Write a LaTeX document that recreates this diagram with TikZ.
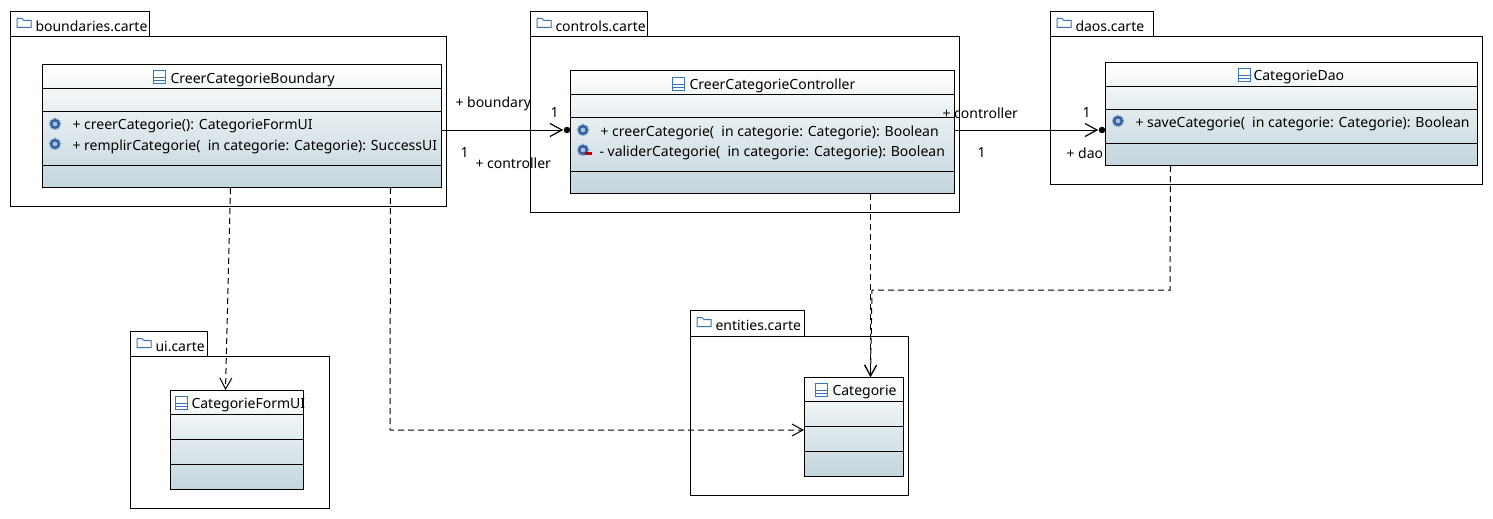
\documentclass[tikz,border=0pt]{standalone}
\usepackage{fontspec}
\setmainfont{Noto Sans}
\usetikzlibrary{arrows.meta}
\definecolor{iconblue}{HTML}{3C75B5}
\definecolor{gearblue}{HTML}{2F5F9F}
\definecolor{classbottom}{HTML}{C3D5DC}
\begin{document}
\begin{tikzpicture}[
    x=1pt,y=-1pt,line width=1pt,
    font=\fontsize{14pt}{16pt}\selectfont,
    pkgbox/.style={draw,fill=white,anchor=north west,inner sep=0pt},
    classbox/.style={draw,anchor=north west,inner sep=0pt,top color=white,bottom color=classbottom},
    txt/.style={inner sep=0pt,anchor=west,yshift=-1.5pt},
    dot/.style={circle,fill,inner sep=0pt,minimum size=6.5pt},
    dep/.style={dash pattern=on 6pt off 4pt,-{Straight Barb[length=11pt,width=12pt,line width=1pt]}},
    assoc/.style={-{Straight Barb[length=12pt,width=13pt,line width=1.2pt]}},
    folder/.pic={\draw[iconblue,line width=1pt,fill=white] (-7,4.5) -- (-7,-4.5) -- (-2,-4.5) -- (0,-2.5) -- (7,-2.5) -- (7,4.5) -- cycle;},
    classicon/.pic={\draw[iconblue,line width=1pt,fill=white] (-6,-6.5) rectangle (6,6.5);
        \draw[iconblue,line width=1pt] (-6,0.5) -- (6,0.5) (-6,3.5) -- (6,3.5);},
    gear/.pic={\fill[gearblue] (0,0) circle (5.2pt);
        \draw[gearblue!70,line width=1.4pt,dash pattern=on 1.3pt off 1.3pt] (0,0) circle (5.6pt);
        \fill[white!60!gearblue] (0,0) circle (2.4pt);}
]
\useasboundingbox (0,0) rectangle (1493,519);

% packages
\node[pkgbox,minimum width=139pt,minimum height=25pt] (boundariesTab) at (10,11) {};
\node[pkgbox,minimum width=436pt,minimum height=170pt] (boundariesPkg) at (10,36) {};
\node[pkgbox,minimum width=117pt,minimum height=25pt] (controlsTab) at (530,11) {};
\node[pkgbox,minimum width=429pt,minimum height=176pt] (controlsPkg) at (530,36) {};
\node[pkgbox,minimum width=103pt,minimum height=25pt] (daosTab) at (1050,11) {};
\node[pkgbox,minimum width=432pt,minimum height=148pt] (daosPkg) at (1050,36) {};
\node[pkgbox,minimum width=77pt,minimum height=25pt] (uiTab) at (130,331) {};
\node[pkgbox,minimum width=199pt,minimum height=152pt] (uiPkg) at (130,356) {};
\node[pkgbox,minimum width=114pt,minimum height=26pt] (entitiesTab) at (690,310) {};
\node[pkgbox,minimum width=218pt,minimum height=159pt] (entitiesPkg) at (690,336) {};

\node[txt] (boundariesName) at (35,24.5) {boundaries.carte};
\node[txt] (controlsName) at (555,24.5) {controls.carte};
\node[txt] (daosName) at (1075,24.5) {daos.carte};
\node[txt] (uiName) at (155,344.5) {ui.carte};
\node[txt] (entitiesName) at (715,323.5) {entities.carte};
\foreach \x/\y in {24/23,544/23,1064/23,144/343,704/322}
    \pic at (\x,\y) {folder};

% classes
\node[classbox,minimum width=399pt,minimum height=123pt] (boundaryClass) at (42,64) {};
\node[classbox,minimum width=384pt,minimum height=123pt] (controllerClass) at (570,70) {};
\node[classbox,minimum width=372pt,minimum height=103pt] (daoClass) at (1105,62) {};
\node[classbox,minimum width=133pt,minimum height=99pt] (formClass) at (170,390) {};
\node[classbox,minimum width=99pt,minimum height=99pt] (categorieClass) at (804,377) {};

\foreach \y in {88,111,165} \draw (42,\y) -- (441,\y);
\foreach \y in {94,117,171} \draw (570,\y) -- (954,\y);
\foreach \y in {86,109,143} \draw (1105,\y) -- (1477,\y);
\foreach \y in {414,439,464} \draw (170,\y) -- (303,\y);
\foreach \y in {401,426,451} \draw (804,\y) -- (903,\y);

\node[txt] (boundaryName) at (170,78) {CreerCategorieBoundary};
\node[txt] (controllerName) at (689,84) {CreerCategorieController};
\node[txt] (daoName) at (1253,76) {CategorieDao};
\node[txt] (formName) at (191,404) {CategorieFormUI};
\node[txt] (categorieName) at (832,391) {Categorie};
\foreach \x/\y in {159/77,678/84,1244/75,181/403,821/390}
    \pic at (\x,\y) {classicon};

\node[txt] (creerForm) at (72,124.5) {+ creerCategorie(): CategorieFormUI};
\node[txt] (remplir) at (72,145) {+ remplirCategorie(\ \ in categorie: Categorie): SuccessUI};
\node[txt] (creerBool) at (600,131) {+ creerCategorie(\ \ in categorie: Categorie): Boolean};
\node[txt] (valider) at (599,151) {- validerCategorie(\ \ in categorie: Categorie): Boolean};
\node[txt] (save) at (1135,122) {+ saveCategorie(\ \ in categorie: Categorie): Boolean};
\foreach \x/\y in {55/124,55/144,583/130,583/150,1118/121}
    \pic at (\x,\y) {gear};
\fill[red!75!black] (585,152) rectangle (592,155);

% links
\coordinate (boundaryOut) at (441,130);
\coordinate (controllerOut) at (954,130);
\node[dot] (controllerDot) at (567,130) {};
\node[dot] (daoDot) at (1102,130) {};
\draw[assoc] (boundaryOut) -- (controllerDot);
\draw[assoc] (controllerOut) -- (daoDot);

\coordinate (bend1) at (390,430);
\coordinate (bend2) at (1170,290);
\coordinate (bend3) at (872,290);
\coordinate (categorieIn) at (804,430);
\draw[dep] ([xshift=-11.5pt]boundaryClass.south) -- ([xshift=-11.5pt]formClass.north);
\draw[dep] ([xshift=148.5pt]boundaryClass.south) -- (bend1) -- (categorieIn);
\draw[dep] ([xshift=108pt]controllerClass.south) -- ([xshift=16.5pt]categorieClass.north);
\draw[dep] ([xshift=-121pt]daoClass.south) -- (bend2) -- (bend3) -- ([xshift=16.5pt]categorieClass.north);

% ends
\node[txt] (boundaryRole) at (455,102) {+ boundary};
\node[txt] (controllerRoleA) at (475,162) {+ controller};
\node[txt] (controllerRoleB) at (942,112) {+ controller};
\node[txt] (daoRole) at (1066,152) {+ dao};
\node[txt] (multA) at (550,111) {1};
\node[txt] (multB) at (460,151) {1};
\node[txt] (multC) at (1082,111) {1};
\node[txt] (multD) at (977,151) {1};
\end{tikzpicture}
\end{document}
